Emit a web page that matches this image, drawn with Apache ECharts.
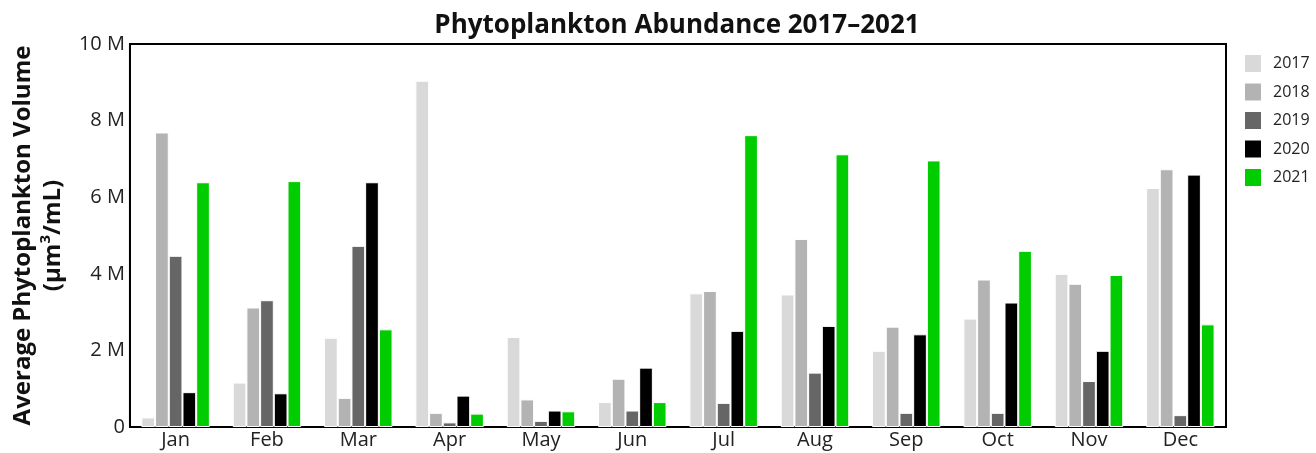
<!DOCTYPE html>
<html>
<head>
<meta charset="utf-8">
<script src="https://cdn.jsdelivr.net/npm/echarts@6/dist/echarts.min.js"></script>
<style>
html,body{margin:0;padding:0;background:#fff;}
#chart{width:1316px;height:453px;}
</style>
</head>
<body>
<div id="chart"></div>
<script>
const months = ['Jan','Feb','Mar','Apr','May','Jun','Jul','Aug','Sep','Oct','Nov','Dec'];
const years = ['2017','2018','2019','2020','2021'];
const colors = ['#d9d9d9','#b3b3b3','#666666','#000000','#00cc00'];
const v2017 = [0.25,1.16,2.33,9.04,2.35,0.65,3.49,3.46,1.99,2.83,4.00,6.24];
const v2018 = [7.69,3.12,0.76,0.37,0.72,1.26,3.55,4.91,2.62,3.85,3.74,6.73];
const v2019 = [4.47,3.31,4.73,0.12,0.16,0.43,0.63,1.42,0.37,0.37,1.20,0.31];
const v2020 = [0.91,0.88,6.39,0.82,0.43,1.55,2.51,2.64,2.42,3.25,1.99,6.59];
const v2021 = [6.39,6.42,2.55,0.35,0.41,0.65,7.62,7.12,6.96,4.60,3.97,2.68];
const seriesValues = [v2017,v2018,v2019,v2020,v2021];
const yTicks = {0:'0',2:'2 M',4:'4 M',6:'6 M',8:'8 M',10:'10 M'};

const font = '"Open Sans", "Noto Sans", sans-serif';
const chart = echarts.init(document.getElementById('chart'));
chart.setOption({
  animation:false,
  textStyle:{fontFamily:font},
  title:{text:'Phytoplankton Abundance 2017–2021',left:672,top:8,textAlign:'center',
    textStyle:{fontFamily:font,fontWeight:'bold',fontSize:26,color:'#111'}},
  legend:{orient:'vertical',left:1243,top:53,itemWidth:18,itemHeight:19,itemGap:7.5,icon:'rect',
    padding:0,textStyle:{fontFamily:font,fontSize:16,color:'#222',padding:[0,0,0,6]},
    data:years},
  grid:{left:119,right:90,top:44,bottom:26,show:true,borderColor:'#000',borderWidth:2,containLabel:false},
  xAxis:{type:'category',data:months,axisLine:{lineStyle:{color:'#000',width:2}},axisTick:{show:false},
    axisLabel:{color:'#222',fontSize:20,margin:3,fontFamily:font}},
  yAxis:{type:'value',min:0,max:10,interval:2,splitLine:{show:false},
    axisLine:{show:true,lineStyle:{color:'#000',width:2}},axisTick:{show:false},
    axisLabel:{color:'#222',fontSize:20,margin:5,fontFamily:font,formatter:v=>yTicks[v]},
    name:'Average Phytoplankton Volume\n(μm{sup|3}/mL)',nameLocation:'middle',nameGap:56,nameRotate:90,
    nameTextStyle:{fontFamily:font,fontWeight:'bold',fontSize:24,color:'#111',lineHeight:30,
      rich:{sup:{fontFamily:font,fontWeight:'bold',fontSize:15,verticalAlign:'top',lineHeight:30,color:'#111'}}}},
  series:years.map((y,i)=>({name:y,type:'bar',data:seriesValues[i],barGap:'0%',barCategoryGap:'25%',
    itemStyle:{color:colors[i],borderColor:'#fff',borderWidth:1}}))
});
</script>
</body>
</html>
